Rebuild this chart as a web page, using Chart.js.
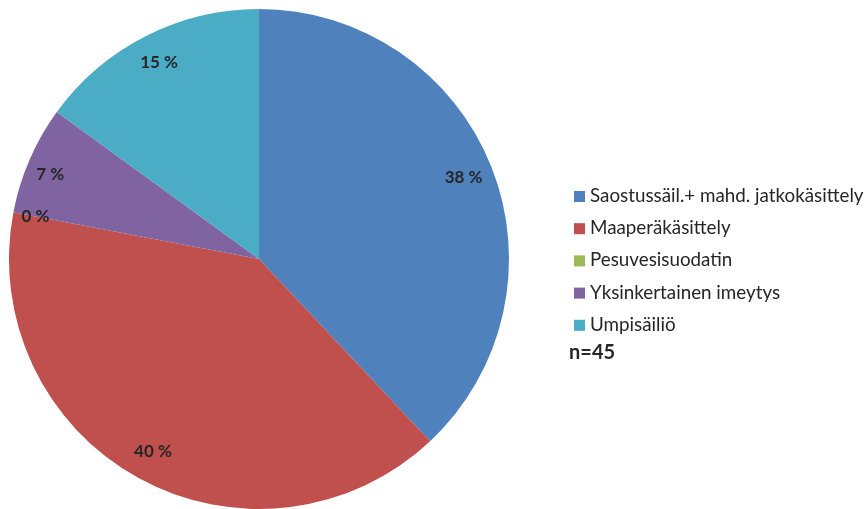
<!DOCTYPE html>
<html>
<head>
<meta charset="utf-8">
<script src="https://cdn.jsdelivr.net/npm/chart.js@4/dist/chart.umd.min.js"></script>
<style>
  html, body { margin: 0; padding: 0; background: #fff; }
  #wrap { width: 865px; height: 509px; }
</style>
</head>
<body>
<div id="wrap"><canvas id="pieChart" width="865" height="509"></canvas></div>
<script>
const categories = [
    "Saostussäil.+ mahd. jatkokäsittely",
    "Maaperäkäsittely",
    "Pesuvesisuodatin",
    "Yksinkertainen imeytys",
    "Umpisäiliö"
];
const shares = [38, 40, 0, 7, 15];
const colors = ["#4F81BD", "#C0504D", "#9BBB59", "#8064A2", "#4BACC6"];
const sampleNote = "n=45";

const FONT = "Lato, 'Open Sans', sans-serif";

// percent labels inside the slices
const sliceLabels = {
    id: "sliceLabels",
    afterDatasetsDraw(chart) {
        const { ctx } = chart;
        const meta = chart.getDatasetMeta(0);
        ctx.save();
        ctx.font = "bold 17px " + FONT;
        ctx.fillStyle = "#262626";
        ctx.textAlign = "center";
        ctx.textBaseline = "middle";
        meta.data.forEach((arc, i) => {
            const mid = (arc.startAngle + arc.endAngle) / 2;
            const r = arc.outerRadius * (shares[i] < 10 ? 0.91 : 0.88);
            const x = arc.x + Math.cos(mid) * r;
            const y = arc.y + Math.sin(mid) * r;
            ctx.fillText(shares[i] + " %", x, y + (i === 3 ? 6 : 0));
        });
        ctx.restore();
    }
};

// legend on the right, with the sample size under it
const sideLegend = {
    id: "sideLegend",
    afterDraw(chart) {
        const { ctx } = chart;
        const x0 = 574, y0 = 196, step = 32.2;
        ctx.save();
        ctx.textBaseline = "middle";
        ctx.textAlign = "left";
        categories.forEach((name, i) => {
            const y = y0 + i * step;
            ctx.fillStyle = colors[i];
            ctx.fillRect(x0, y - 5, 11, 11);
            ctx.fillStyle = "#262626";
            ctx.font = "18.8px " + FONT;
            ctx.fillText(name, x0 + 16, y);
        });
        ctx.font = "bold 20px " + FONT;
        ctx.fillText(sampleNote, x0 - 5, y0 + categories.length * step - 4);
        ctx.restore();
    }
};

new Chart(document.getElementById("pieChart"), {
    type: "pie",
    data: {
        labels: categories,
        datasets: [{
            data: shares,
            backgroundColor: colors,
            borderWidth: 0
        }]
    },
    options: {
        responsive: false,
        animation: false,
        layout: { padding: { left: 9, top: 9, right: 356, bottom: 0 } },
        plugins: {
            legend: { display: false },
            tooltip: { enabled: false }
        }
    },
    plugins: [sliceLabels, sideLegend]
});
</script>
</body>
</html>
